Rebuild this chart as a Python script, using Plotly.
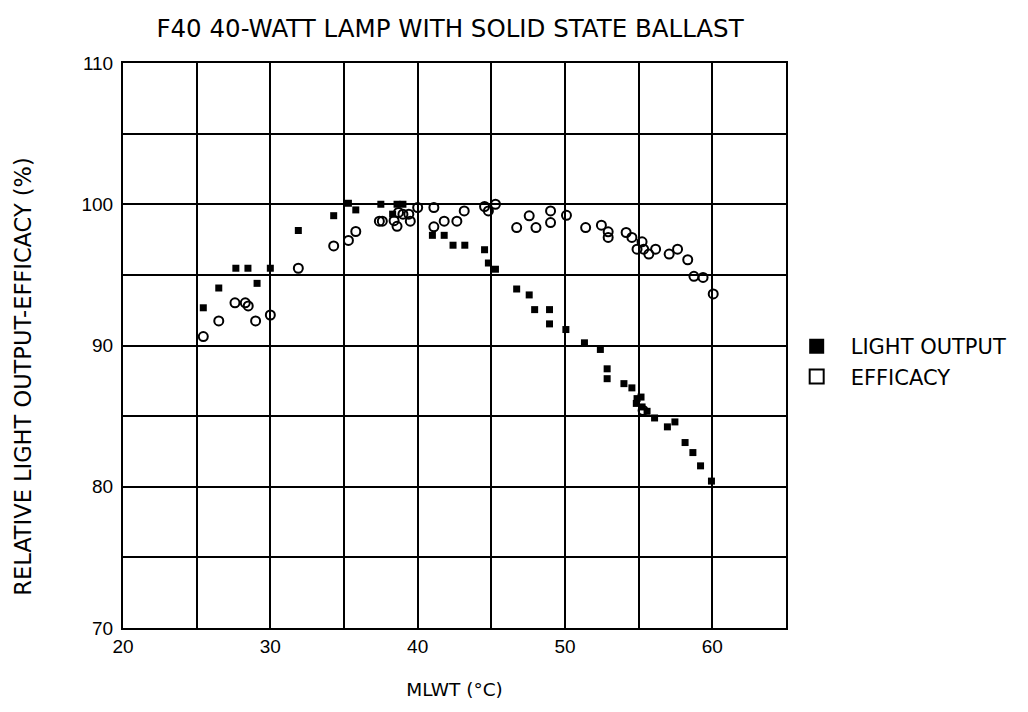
import plotly.graph_objects as go

# Light output (filled squares)
light_x = [25.45, 26.5, 27.66, 28.48, 29.1, 30.0, 31.9, 34.3, 35.3, 35.8, 37.5, 38.3, 38.6, 39.0,
           41.0, 41.8, 42.4, 43.2, 44.54, 44.8, 45.28, 46.72, 47.57, 47.94, 48.95, 48.95, 50.06,
           51.32, 52.4, 52.86, 52.86, 54.0, 54.54, 54.89, 55.16, 54.84, 55.23, 55.57, 56.08,
           56.95, 57.46, 58.15, 58.68, 59.2, 59.94]
light_y = [92.67, 94.07, 95.47, 95.47, 94.4, 95.47, 98.14, 99.19, 100.07, 99.6, 100.0, 99.3, 100.0, 100.0,
           97.8, 97.8, 97.1, 97.1, 96.78, 95.84, 95.4, 94.0, 93.58, 92.54, 92.54, 91.53, 91.13,
           90.19, 89.72, 88.35, 87.65, 87.3, 87.0, 86.24, 86.35, 85.9, 85.65, 85.34, 84.87,
           84.24, 84.59, 83.13, 82.42, 81.48, 80.4]

# Efficacy (open markers)
eff_x = [25.45, 26.5, 27.6, 28.3, 28.5, 29.0, 30.0, 31.9, 34.3, 35.3, 35.8, 37.4, 37.6, 38.4, 38.6,
         38.7, 39.0, 39.4, 39.5, 40.0, 41.1, 41.1, 41.8, 42.66, 43.16, 44.54, 44.8, 45.28, 46.72,
         47.57, 48.03, 49.02, 49.02, 50.1, 51.4, 52.47, 52.93, 52.93, 54.15, 54.54, 55.23, 54.89,
         55.34, 55.69, 56.15, 57.07, 57.64, 58.33, 58.75, 59.37, 60.06, 55.3]
eff_y = [90.63, 91.74, 93.02, 93.02, 92.8, 91.74, 92.16, 95.47, 97.05, 97.44, 98.07, 98.8, 98.8, 98.84, 98.44,
         99.42, 99.3, 99.3, 98.8, 99.77, 99.77, 98.4, 98.8, 98.8, 99.53, 99.84, 99.53, 100.0, 98.35,
         99.18, 98.35, 99.53, 98.7, 99.22, 98.35, 98.52, 98.05, 97.65, 98.0, 97.65, 97.34, 96.82,
         96.82, 96.47, 96.82, 96.47, 96.82, 96.07, 94.9, 94.82, 93.65, 85.4]

x_ticks = [20, 25, 30, 35, 40, 45, 50, 55, 60, 65]
x_labels = ["20", "", "30", "", "40", "", "50", "", "60", ""]
y_ticks = [70, 75, 80, 85, 90, 95, 100, 105, 110]
y_labels = ["70", "", "80", "", "90", "", "100", "", "110"]

series_names = ["LIGHT OUTPUT", "EFFICACY"]
title = "F40 40-WATT LAMP WITH SOLID STATE BALLAST"
x_title = "MLWT (°C)"
y_title = "RELATIVE LIGHT OUTPUT-EFFICACY (%)"

FONT = "Liberation Sans, Arial, sans-serif"
WIDE = "DejaVu Sans, Liberation Sans, sans-serif"

fig = go.Figure()
fig.add_trace(go.Scatter(x=light_x, y=light_y, mode="markers", showlegend=False,
                         marker=dict(symbol="square", size=7, color="black")))
fig.add_trace(go.Scatter(x=eff_x, y=eff_y, mode="markers", showlegend=False,
                         marker=dict(symbol="circle-open", size=9, color="black",
                                     line=dict(width=2, color="black"))))
# legend-only entries (square symbols as in the reference legend)
fig.add_trace(go.Scatter(x=[None], y=[None], mode="markers", name=series_names[0],
                         marker=dict(symbol="square", size=15, color="black")))
fig.add_trace(go.Scatter(x=[None], y=[None], mode="markers", name=series_names[1],
                         marker=dict(symbol="square-open", size=14, color="black",
                                     line=dict(width=2, color="black"))))

axis_common = dict(showgrid=True, gridcolor="black", gridwidth=2, showline=True,
                   linecolor="black", linewidth=2, mirror=True, ticks="", zeroline=False,
                   tickfont=dict(family=FONT, size=19, color="black"))

fig.update_xaxes(range=[20, 65], tickmode="array", tickvals=x_ticks, ticktext=x_labels,
                 title=dict(text=x_title, font=dict(family=WIDE, size=18.5, color="black"), standoff=27),
                 **axis_common)
fig.update_yaxes(range=[70, 110], tickmode="array", tickvals=y_ticks, ticktext=y_labels,
                 ticklabelstandoff=4, **axis_common)

fig.add_annotation(text=y_title, textangle=-90, xref="paper", yref="paper",
                   x=-0.15, y=0.444, xanchor="center", yanchor="middle", showarrow=False,
                   font=dict(family=WIDE, size=22.5, color="black"))

fig.update_layout(
    width=1028, height=712,
    margin=dict(l=115, r=250, t=55, b=92),
    paper_bgcolor="white", plot_bgcolor="white",
    title=dict(text=title, x=0.430, xanchor="center", y=0.972, yanchor="middle",
               font=dict(family=WIDE, size=24.5, color="black")),
    legend=dict(x=0.995, y=0.5345, xanchor="left", yanchor="top", itemsizing="trace",
                itemwidth=58,
                font=dict(family=WIDE, size=21, color="black"), bgcolor="rgba(0,0,0,0)",
                tracegroupgap=0),
)

fig.write_html("out.html")
